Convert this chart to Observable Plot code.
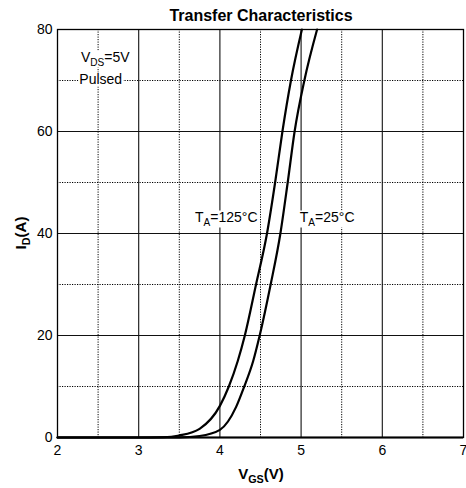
<!DOCTYPE html>
<html>
<head>
<meta charset="utf-8">
<script src="https://cdn.jsdelivr.net/npm/d3@7"></script>
<script src="https://cdn.jsdelivr.net/npm/@observablehq/plot@0.6"></script>
<style>
  html, body { margin: 0; padding: 0; background: #fff; }
</style>
</head>
<body>
<div id="chart"></div>
<script>
// Data
const vgs125 = [2.0, 3.0, 3.3, 3.5, 3.75, 4.0, 4.11, 4.22, 4.307, 4.445, 4.58, 4.68, 4.77, 4.875, 5.01];
const id125  = [0,   0,   0.05, 0.4, 1.7, 6.2, 10,   15,   20,    30,    40,   50,   60,   70,    80];
const vgs25  = [2.0, 3.0, 3.5, 3.75, 4.0, 4.2, 4.30, 4.41, 4.49, 4.625, 4.745, 4.835, 4.92, 5.04, 5.197];
const id25   = [0,   0,   0.03, 0.3, 1.5, 6.0, 10,   15,   20,   30,    40,    50,    60,   70,   80];
const xTicks = [2, 3, 4, 5, 6, 7];
const yTicks = [0, 20, 40, 60, 80];
const xMajor = [3, 4, 5, 6];
const yMajor = [20, 40, 60];
const xMinor = [2.5, 3.5, 4.5, 5.5, 6.5];
const yMinor = [10, 30, 50, 70];

const s125 = vgs125.map((x, i) => ({x, y: id125[i]}));
const s25 = vgs25.map((x, i) => ({x, y: id25[i]}));

const FONT = "'Liberation Sans', Arial, Helvetica, sans-serif";

const svg = Plot.plot({
  width: 466,
  height: 488,
  marginLeft: 57,
  marginRight: 3,
  marginTop: 29,
  marginBottom: 51,
  style: {fontFamily: FONT, fontSize: "14px", color: "#000", background: "#fff"},
  x: {domain: [2, 7]},
  y: {domain: [0, 80]},
  marks: [
    Plot.ruleX(xMinor, {stroke: "#000", strokeWidth: 1, strokeDasharray: "1.2,1.3"}),
    Plot.ruleY(yMinor, {stroke: "#000", strokeWidth: 1, strokeDasharray: "1.2,1.3"}),
    Plot.ruleX(xMajor, {stroke: "#111", strokeWidth: 1.1}),
    Plot.ruleY(yMajor, {stroke: "#111", strokeWidth: 1.1}),
    Plot.frame({stroke: "#000", strokeWidth: 1.3}),
    Plot.ruleY([0], {stroke: "#000", strokeWidth: 2}),
    Plot.line(s125, {x: "x", y: "y", curve: "monotone-x", stroke: "#000", strokeWidth: 2.2}),
    Plot.line(s25, {x: "x", y: "y", curve: "monotone-x", stroke: "#000", strokeWidth: 2.2}),
    Plot.axisX({ticks: xTicks, tickFormat: "d", tickSize: 0, tickPadding: 8, label: null, fontSize: 14}),
    Plot.axisY({ticks: yTicks, tickFormat: "d", tickSize: 0, tickPadding: 5, label: null, fontSize: 14})
  ]
});

document.getElementById("chart").appendChild(svg);

const sx = svg.scale("x"), sy = svg.scale("y");
const root = d3.select(svg);

function rich(parts, x, y, opts = {}) {
  const t = root.append("text")
    .attr("x", x).attr("y", y)
    .attr("font-family", FONT)
    .attr("font-size", opts.size || 14)
    .attr("font-weight", opts.bold ? "bold" : "normal")
    .attr("text-anchor", opts.anchor || "start")
    .attr("fill", "#000");
  if (opts.rotate) t.attr("transform", `rotate(${opts.rotate},${x},${y})`);
  let shift = 0;
  for (const p of parts) {
    const sp = t.append("tspan").text(p.t);
    const target = p.sub ? 4 : 0;
    if (target !== shift) { sp.attr("dy", target - shift); shift = target; }
    if (p.sub) sp.attr("font-size", (opts.size || 14) * 0.72);
  }
  if (opts.bg) {
    const b = t.node().getBBox();
    root.insert("rect", () => t.node())
      .attr("x", b.x - 1).attr("y", b.y + 2)
      .attr("width", b.width + 2).attr("height", b.height - 2)
      .attr("fill", "#fff");
  }
  return t;
}

// Title
rich([{t: "Transfer Characteristics"}], (sx.range[0] + sx.range[1]) / 2 + 1, 21, {bold: true, size: 16, anchor: "middle"});

// Axis labels
rich([{t: "V"}, {t: "GS", sub: true}, {t: "(V)"}], (sx.range[0] + sx.range[1]) / 2 + 1, 479, {bold: true, size: 15, anchor: "middle"});
rich([{t: "I"}, {t: "D", sub: true}, {t: "(A)"}], 26, sy.apply(40), {bold: true, size: 15, anchor: "middle", rotate: -90});

// Annotations
rich([{t: "V"}, {t: "DS", sub: true}, {t: "=5V"}], sx.apply(2.295), 61.5, {bg: true});
rich([{t: "Pulsed"}], sx.apply(2.275), 83.5, {bg: true});
rich([{t: "T"}, {t: "A", sub: true}, {t: "=125°C"}], sx.apply(3.70), 221.5, {bg: true});
rich([{t: "T"}, {t: "A", sub: true}, {t: "=25°C"}], sx.apply(4.99), 221.5, {bg: true});
</script>
</body>
</html>
